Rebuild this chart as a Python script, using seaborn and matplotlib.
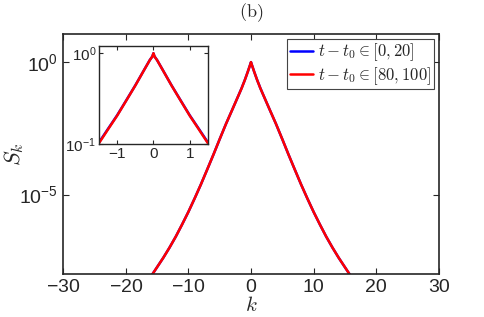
import numpy as np
import pandas as pd
import matplotlib
matplotlib.use("Agg")
import matplotlib.pyplot as plt
import seaborn as sns

# valori
k_vals = [-17, -16, -15, -14, -13, -12, -11, -10, -9, -8, -7, -6, -5, -4, -3, -2, -1.5, -1.25,
          -1.0, -0.75, -0.5, -0.25, -0.1, -0.03, 0, 0.03, 0.1, 0.25, 0.5, 0.75, 1.0, 1.25, 1.5,
          2, 3, 4, 5, 6, 7, 8, 9, 10, 11, 12, 13, 14, 15, 16, 17]
S_early = [3.6e-9, 7.9e-9, 1.8e-8, 4.1e-8, 1.0e-7, 2.6e-7, 7.4e-7, 2.2e-6, 7.1e-6, 2.4e-5,
           8.7e-5, 3.2e-4, 1.23e-3, 4.6e-3, 1.58e-2, 5.5e-2, 0.104, 0.147,
           0.207, 0.302, 0.442, 0.662, 0.842, 0.922, 1.0, 0.922, 0.842, 0.662, 0.442, 0.302,
           0.207, 0.147, 0.104,
           5.5e-2, 1.58e-2, 4.6e-3, 1.23e-3, 3.2e-4, 8.7e-5, 2.4e-5, 7.1e-6, 2.2e-6, 7.4e-7,
           2.6e-7, 1.0e-7, 4.1e-8, 1.8e-8, 7.9e-9, 3.6e-9]
S_late = [3.6e-9, 7.9e-9, 1.8e-8, 4.1e-8, 1.0e-7, 2.6e-7, 7.4e-7, 2.2e-6, 7.1e-6, 2.4e-5,
          8.7e-5, 3.2e-4, 1.23e-3, 4.6e-3, 1.58e-2, 5.5e-2, 0.102, 0.145,
          0.205, 0.30, 0.44, 0.66, 0.84, 0.92, 1.0, 0.92, 0.84, 0.66, 0.44, 0.30,
          0.205, 0.145, 0.102,
          5.5e-2, 1.58e-2, 4.6e-3, 1.23e-3, 3.2e-4, 8.7e-5, 2.4e-5, 7.1e-6, 2.2e-6, 7.4e-7,
          2.6e-7, 1.0e-7, 4.1e-8, 1.8e-8, 7.9e-9, 3.6e-9]
labels = [r"$t - t_0 \in [0, 20]$", r"$t - t_0 \in [80, 100]$"]
colori = ["#0000ff", "#ff0000"]

df = pd.DataFrame({
    "k": k_vals + k_vals,
    "S": S_early + S_late,
    "serie": [labels[0]] * len(k_vals) + [labels[1]] * len(k_vals),
})

sns.set_style("ticks")
plt.rcParams["font.family"] = ["Liberation Sans", "DejaVu Sans"]
plt.rcParams["mathtext.fontset"] = "cm"

fig = plt.figure(figsize=(4.85, 3.17), dpi=100)
ax = fig.add_axes([0.130, 0.1356, 0.775, 0.757])

sns.lineplot(data=df, x="k", y="S", hue="serie", palette=colori, linewidth=1.8,
             ax=ax, estimator=None, sort=False)
ax.set_yscale("log")
ax.set_xlim(-30, 30)
ax.set_ylim(1e-8, 11.5)
ax.set_xticks([-30, -20, -10, 0, 10, 20, 30])
ax.set_xticklabels([r"$\mathregular{-30}$", r"$\mathregular{-20}$", r"$\mathregular{-10}$",
                    "0", "10", "20", "30"])
ax.set_yticks([1e-5, 1])
ax.set_yticklabels([r"$\mathregular{10^{-5}}$", r"$\mathregular{10^{0}}$"])
ax.minorticks_off()
ax.tick_params(direction="in", top=True, right=True, labelsize=14, width=0.8, length=4)
for s in ax.spines.values():
    s.set_linewidth(1.2)
ax.set_xlabel(r"$k$", fontsize=15, labelpad=0)
ax.set_ylabel(r"$S_k$", fontsize=16, labelpad=-5)
ax.set_title(r"$\mathrm{(b)}$", fontsize=13, pad=12)
leg = ax.legend(loc="upper right", fontsize=12, handlelength=1.4, handletextpad=0.3,
                borderpad=0.15, labelspacing=0.1, fancybox=False, framealpha=1,
                borderaxespad=0.3)
leg.get_frame().set_edgecolor("#444444")
leg.get_frame().set_linewidth(0.8)

# inserto
axi = fig.add_axes([0.204, 0.5457, 0.2247, 0.309])
sns.lineplot(data=df, x="k", y="S", hue="serie", palette=colori, linewidth=1.8,
             ax=axi, estimator=None, sort=False, legend=False)
axi.set_yscale("log")
axi.set_xlim(-1.5, 1.5)
axi.set_ylim(0.1, 1.2)
axi.set_xticks([-1, 0, 1])
axi.set_xticklabels([r"$\mathregular{-1}$", "0", "1"])
axi.set_yticks([0.1, 1])
axi.set_yticklabels([r"$\mathregular{10^{-1}}$", r"$\mathregular{10^{0}}$"])
axi.minorticks_off()
axi.tick_params(direction="in", top=True, right=True, labelsize=11, width=0.8, length=3, pad=2)
axi.set_xlabel("")
axi.set_ylabel("")
for s in axi.spines.values():
    s.set_linewidth(1.0)

plt.savefig("out.png", dpi=100)
